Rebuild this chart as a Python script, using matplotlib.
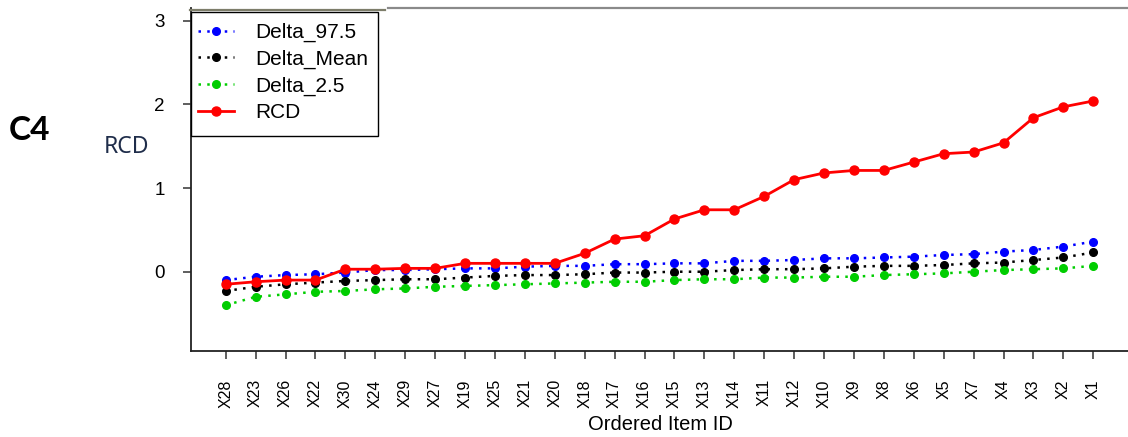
import matplotlib
matplotlib.use("Agg")
import matplotlib.pyplot as plt
from matplotlib.lines import Line2D
from matplotlib.patches import Rectangle
import numpy as np

# ---- data (items ordered by RCD) ----
items = ["X28", "X23", "X26", "X22", "X30", "X24", "X29", "X27", "X19", "X25",
         "X21", "X20", "X18", "X17", "X16", "X15", "X13", "X14", "X11", "X12",
         "X10", "X9", "X8", "X6", "X5", "X7", "X4", "X3", "X2", "X1"]

delta_97_5 = [-0.10, -0.06, -0.04, -0.03, -0.01, 0.02, 0.02, 0.03, 0.04, 0.04,
              0.06, 0.07, 0.07, 0.09, 0.09, 0.10, 0.10, 0.13, 0.13, 0.14,
              0.16, 0.16, 0.17, 0.18, 0.20, 0.21, 0.24, 0.26, 0.30, 0.36]
delta_mean = [-0.23, -0.18, -0.15, -0.13, -0.11, -0.10, -0.09, -0.09, -0.07, -0.05,
              -0.04, -0.04, -0.03, -0.01, -0.01, 0.00, 0.00, 0.02, 0.03, 0.03,
              0.04, 0.06, 0.07, 0.07, 0.08, 0.10, 0.11, 0.14, 0.17, 0.23]
delta_2_5 = [-0.40, -0.30, -0.27, -0.24, -0.23, -0.21, -0.20, -0.18, -0.17, -0.16,
             -0.15, -0.14, -0.13, -0.12, -0.12, -0.10, -0.09, -0.09, -0.07, -0.07,
             -0.06, -0.06, -0.04, -0.03, -0.02, 0.00, 0.02, 0.03, 0.04, 0.07]
rcd = [-0.15, -0.12, -0.10, -0.10, 0.03, 0.03, 0.04, 0.04, 0.10, 0.10,
       0.10, 0.10, 0.22, 0.39, 0.43, 0.63, 0.74, 0.74, 0.90, 1.10,
       1.18, 1.21, 1.21, 1.31, 1.41, 1.43, 1.54, 1.84, 1.97, 2.04]

y_ticks = [0, 1, 2, 3]

plt.rcParams["font.family"] = ["Liberation Sans", "DejaVu Sans"]

W, H = 1128, 437
fig = plt.figure(figsize=(W / 100, H / 100), dpi=100)

# plot region in pixels: left 191, right 1128, top 7.9, bottom 351.4
ax = fig.add_axes([191 / W, (H - 351.4) / H, (W - 191) / W, (351.4 - 7.9) / H])

x = np.arange(len(items))
dot = (0, (1, 2.5))
ax.plot(x, delta_97_5, color="#0000ff", ls=dot, lw=1.8, marker="o", ms=5.5, label="Delta_97.5")
ax.plot(x, delta_mean, color="black", ls=dot, lw=1.8, marker="o", ms=5.5, label="Delta_Mean")
ax.plot(x, delta_2_5, color="#00cd00", ls=dot, lw=1.8, marker="o", ms=5.5, label="Delta_2.5")
ax.plot(x, rcd, color="#ff0000", ls="-", lw=2, marker="o", ms=6.5, label="RCD")

ax.set_xlim(-1.16, len(items) - 1 + 1.16)
ax.set_ylim(-0.952, 3.152)

ax.set_xticks(x)
ax.set_xticklabels(items, rotation=90, fontsize=11.5)
ax.set_yticks(y_ticks)
ax.set_yticklabels([str(t) for t in y_ticks], fontsize=13.5)
ax.tick_params(axis="both", direction="out", length=6, width=1.1, color="#333333", pad=13)
ax.tick_params(axis="x", pad=14)

for side in ["top", "right"]:
    ax.spines[side].set_visible(False)
for side in ["left", "bottom"]:
    ax.spines[side].set_linewidth(1.3)
    ax.spines[side].set_color("#222222")

# legend entries without their own frame; the box is drawn separately
leg = ax.legend(loc="upper left", bbox_to_anchor=(198 / W, (H - 23) / H),
                bbox_transform=fig.transFigure, borderaxespad=0, borderpad=0,
                fontsize=15, handlelength=1.75, handletextpad=1.0,
                labelspacing=0.36, frameon=False)
ax.add_patch(Rectangle((191 / W, (H - 136) / H), (378 - 191) / W, (136 - 12) / H,
                       transform=fig.transFigure, facecolor="white", edgecolor="black",
                       lw=1.0, zorder=4, clip_on=False))

# axis titles
fig.text(660 / W, (H - 425) / H, "Ordered Item ID", ha="center", va="center", fontsize=14.5)
fig.text(126 / W, (H - 147) / H, "RCD", ha="center", va="center", fontsize=16.5,
         color="#1f2d4a", family=["Noto Sans", "DejaVu Sans"])
fig.text(30 / W, (H - 130) / H, "C4", ha="center", va="center", fontsize=24,
         fontweight="bold", family=["Lato", "DejaVu Sans"])

# grey strips along the top edge
fig.add_artist(Line2D([190 / W, 385 / W], [(H - 10) / H] * 2, color="#7d7d6a", lw=1.6,
                      transform=fig.transFigure))
fig.add_artist(Line2D([388 / W, 1.0], [(H - 8) / H] * 2, color="#8a8a8a", lw=1.6,
                      transform=fig.transFigure))

fig.savefig("out.png", dpi=100)
